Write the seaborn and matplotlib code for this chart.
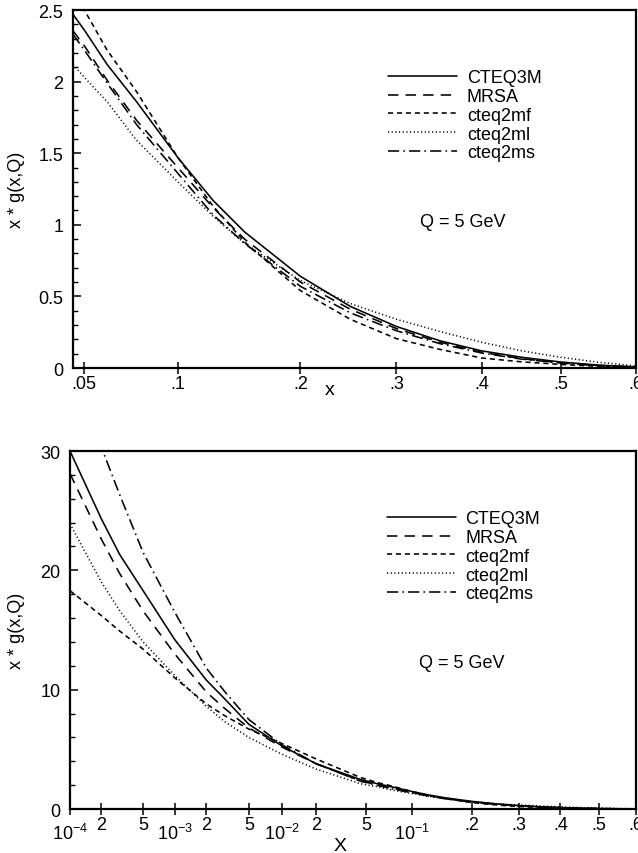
import numpy as np
import pandas as pd
import matplotlib

matplotlib.use("Agg")
import matplotlib.pyplot as plt
import seaborn as sns
from matplotlib.ticker import FixedLocator, FixedFormatter, MultipleLocator


PDF_NAMES = ["CTEQ3M", "MRSA", "cteq2mf", "cteq2ml", "cteq2ms"]

# large-x region (top panel, also reused for the tail of the bottom panel)
X_HIGH = [0.0455, 0.05, 0.06, 0.075, 0.1, 0.125, 0.15, 0.2, 0.25, 0.3,
          0.35, 0.4, 0.45, 0.5, 0.55, 0.6]
CTEQ3M_HIGH = [2.47, 2.36, 2.12, 1.86, 1.47, 1.17, 0.95, 0.64, 0.43, 0.29,
               0.19, 0.12, 0.075, 0.042, 0.02, 0.008]
MRSA_HIGH = [2.355, 2.25, 2.01, 1.73, 1.40, 1.12, 0.90, 0.60, 0.41, 0.275,
             0.18, 0.11, 0.065, 0.036, 0.017, 0.006]
CTEQ2MF_HIGH = [2.64, 2.5, 2.22, 1.93, 1.47, 1.13, 0.88, 0.54, 0.34, 0.205,
                0.13, 0.07, 0.043, 0.025, 0.012, 0.005]
CTEQ2ML_HIGH = [2.12, 2.03, 1.86, 1.59, 1.30, 1.06, 0.87, 0.61, 0.45, 0.34,
                0.255, 0.18, 0.12, 0.075, 0.04, 0.015]
CTEQ2MS_HIGH = [2.33, 2.22, 1.99, 1.70, 1.36, 1.07, 0.87, 0.57, 0.385, 0.26,
                0.17, 0.105, 0.062, 0.035, 0.017, 0.007]

# small-x region (bottom panel only)
X_LOW = [1e-4, 2e-4, 3e-4, 5e-4, 1e-3, 2e-3, 3e-3, 5e-3, 1e-2, 2e-2]
CTEQ3M_LOW = [30.0, 24.3, 21.3, 18.3, 14.2, 10.8, 9.2, 7.1, 5.3, 3.8]
MRSA_LOW = [28.1, 22.6, 19.7, 16.6, 13.0, 9.8, 8.4, 6.8, 5.2, 3.8]
CTEQ2MF_LOW = [18.3, 16.2, 14.9, 13.4, 11.0, 8.8, 7.8, 6.7, 5.5, 4.2]
CTEQ2ML_LOW = [23.9, 19.0, 16.6, 14.0, 11.2, 8.6, 7.3, 6.0, 4.6, 3.35]
CTEQ2MS_LOW = [37.5, 30.3, 26.3, 21.5, 16.5, 11.8, 9.8, 7.5, 5.4, 3.8]

TOP_XTICKS = [0.05, 0.1, 0.2, 0.3, 0.4, 0.5, 0.6]
TOP_XLABELS = [".05", ".1", ".2", ".3", ".4", ".5", ".6"]
BOT_XTICKS = [1e-4, 2e-4, 5e-4, 1e-3, 2e-3, 5e-3, 1e-2, 2e-2, 5e-2, 0.1,
              0.2, 0.3, 0.4, 0.5, 0.6]
BOT_XLABELS = [r"$10^{-4}$", "2", "5", r"$10^{-3}$", "2", "5", r"$10^{-2}$",
               "2", "5", r"$10^{-1}$", ".2", ".3", ".4", ".5", ".6"]

DASHES = {
    "CTEQ3M": "",
    "MRSA": (6.5, 4.5),
    "cteq2mf": (3.2, 2.4),
    "cteq2ml": (0.7, 1.6),
    "cteq2ms": (7, 2.6, 1, 2.6),
}

# the original x axis is log-like at small x and stretched towards x ~ 1
SCALE_C = 6.3
_grid = np.logspace(-7, 0.3, 6000)
_ugrid = np.log(_grid) + SCALE_C * _grid


def fwd(x):
    x = np.clip(np.asarray(x, dtype=float), 1e-12, None)
    return np.log(x) + SCALE_C * x


def inv(u):
    return np.interp(u, _ugrid, _grid)


def long_frame(x, series):
    parts = []
    for name, values in zip(PDF_NAMES, series):
        parts.append(pd.DataFrame({"x": x, "xg": values, "pdf": name}))
    return pd.concat(parts, ignore_index=True)


def style_axes(ax, xticks, xlabels, xlim, ylim, ymajor, yminor):
    ax.set_xscale("function", functions=(fwd, inv))
    ax.set_xlim(*xlim)
    ax.set_ylim(*ylim)
    ax.xaxis.set_major_locator(FixedLocator(xticks))
    ax.xaxis.set_major_formatter(FixedFormatter(xlabels))
    ax.xaxis.set_minor_locator(FixedLocator([]))
    ax.yaxis.set_major_locator(MultipleLocator(ymajor))
    ax.yaxis.set_minor_locator(MultipleLocator(yminor))
    ax.tick_params(axis="x", which="major", direction="inout", length=8,
                   width=1.1, pad=1, labelsize=13, colors="black")
    ax.tick_params(axis="y", which="major", direction="in", length=6,
                   width=1.1, pad=7, labelsize=13, colors="black")
    ax.tick_params(axis="y", which="minor", direction="in", length=3.5,
                   width=1.0, colors="black")
    for spine in ax.spines.values():
        spine.set_visible(True)
        spine.set_linewidth(1.6)
        spine.set_color("black")


def draw_panel(ax, frame):
    sns.lineplot(
        data=frame, x="x", y="xg", style="pdf", style_order=PDF_NAMES,
        dashes=DASHES, color="black", linewidth=1.15, legend=False,
        sort=True, estimator=None, ax=ax,
    )
    ax.legend(
        handles=ax.lines[:5], labels=PDF_NAMES, loc="upper left",
        bbox_to_anchor=(0.56, 0.835), frameon=False, fontsize=13,
        handlelength=3.8, handletextpad=0.55, labelspacing=0.1,
        borderpad=0, borderaxespad=0,
    )
    ax.text(0.617, 0.408, "Q = 5 GeV", transform=ax.transAxes, fontsize=13,
            ha="left", va="center")
    ax.set_ylabel("x * g(x,Q)", fontsize=13)


sns.set_style("ticks")
plt.rcParams["font.family"] = ["Liberation Sans", "DejaVu Sans"]
plt.rcParams["text.color"] = "black"
plt.rcParams["axes.labelcolor"] = "black"
plt.rcParams["mathtext.fontset"] = "custom"
plt.rcParams["mathtext.rm"] = "Liberation Sans"
plt.rcParams["mathtext.it"] = "Liberation Sans:italic"
plt.rcParams["mathtext.bf"] = "Liberation Sans:bold"

fig = plt.figure(figsize=(6.38, 8.54), dpi=100)
ax_top = fig.add_axes([0.1144, 0.5679, 0.8824, 0.4192])
ax_bot = fig.add_axes([0.1097, 0.0515, 0.8871, 0.4192])

top_frame = long_frame(
    X_HIGH, [CTEQ3M_HIGH, MRSA_HIGH, CTEQ2MF_HIGH, CTEQ2ML_HIGH, CTEQ2MS_HIGH]
)
bot_frame = long_frame(
    X_LOW + X_HIGH,
    [CTEQ3M_LOW + CTEQ3M_HIGH, MRSA_LOW + MRSA_HIGH, CTEQ2MF_LOW + CTEQ2MF_HIGH,
     CTEQ2ML_LOW + CTEQ2ML_HIGH, CTEQ2MS_LOW + CTEQ2MS_HIGH],
)

draw_panel(ax_top, top_frame)
style_axes(ax_top, TOP_XTICKS, TOP_XLABELS, (0.0455, 0.6), (0, 2.5), 0.5, 0.1)
ax_top.set_yticks([0, 0.5, 1, 1.5, 2, 2.5])
ax_top.set_yticklabels(["0", "0.5", "1", "1.5", "2", "2.5"])
ax_top.set_xlabel("x", fontsize=14)
ax_top.xaxis.set_label_coords(0.456, -0.035)
ax_top.yaxis.set_label_coords(-0.085, 0.5)

draw_panel(ax_bot, bot_frame)
style_axes(ax_bot, BOT_XTICKS, BOT_XLABELS, (1e-4, 0.6), (0, 30), 10, 2)
# decade labels sit a little lower than the 2 / 5 labels
for tick, text in zip(ax_bot.xaxis.get_major_ticks(), BOT_XLABELS):
    if text.startswith("$"):
        tick.label1.set_y(-0.018)
ax_bot.set_xlabel("X", fontsize=14)
ax_bot.xaxis.set_label_coords(0.477, -0.078)
ax_bot.yaxis.set_label_coords(-0.08, 0.5)

fig.savefig("out.png", dpi=100)
